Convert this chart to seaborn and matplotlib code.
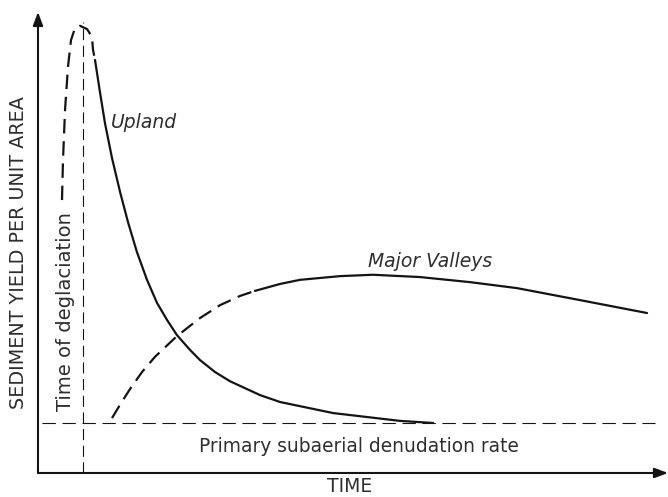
import numpy as np
import matplotlib
matplotlib.use("Agg")
import matplotlib.pyplot as plt
import seaborn as sns

# Upland curve: dashed rise up to the peak, then solid decay to the base rate
upland_rise_t = [3.81, 3.97, 4.29, 4.76, 5.24, 5.87, 6.67, 7.78, 8.57, 8.73, 9.05]
upland_rise_y = [59.2, 67.9, 78.7, 88.1, 93.9, 96.5, 97.0, 96.3, 94.6, 91.8, 89.6]
upland_fall_t = [9.05, 9.84, 10.63, 11.75, 13.02, 14.29, 15.71, 17.30, 18.89, 20.48,
                 22.06, 24.13, 25.71, 28.10, 30.48, 35.24, 38.41, 46.83, 57.46, 62.70]
upland_fall_y = [89.6, 82.6, 75.9, 68.3, 61.0, 54.4, 47.9, 41.9, 36.9, 33.2,
                 29.9, 26.7, 24.5, 21.9, 19.9, 16.9, 15.4, 13.0, 11.3, 10.85]

# Major valleys curve: dashed rise, then solid plateau and slow decline
valley_rise_t = [11.75, 13.02, 14.60, 16.51, 18.57, 22.06, 25.71, 28.89, 32.06, 34.44]
valley_rise_y = [11.9, 14.8, 18.2, 21.9, 25.2, 29.7, 33.6, 36.4, 38.4, 39.5]
valley_main_t = [34.44, 38.41, 41.59, 47.94, 53.17, 60.63, 68.57, 76.03, 86.03, 96.67]
valley_main_y = [39.5, 41.0, 41.9, 42.7, 43.0, 42.5, 41.4, 40.1, 37.5, 34.7]

baseline_rate = 10.85
deglaciation_time = 7.14

sns.set_style("white")
plt.rcParams["font.family"] = ["DejaVu Sans"]

fig = plt.figure(figsize=(6.68, 4.97), dpi=100)
ax = fig.add_axes([0, 0, 1, 1])
ax.set_xlim(-6.03, 100)
ax.set_ylim(-5.21, 102.6)
ax.axis("off")

ink = "#141414"
txt = "#2e2e2e"
curve_dash = (0, (6.5, 3.5))

sns.lineplot(x=upland_rise_t, y=upland_rise_y, ax=ax, sort=False, estimator=None,
             color=ink, lw=1.6, linestyle=curve_dash)
sns.lineplot(x=upland_fall_t, y=upland_fall_y, ax=ax, sort=False, estimator=None,
             color=ink, lw=1.6)
sns.lineplot(x=valley_rise_t, y=valley_rise_y, ax=ax, sort=False, estimator=None,
             color=ink, lw=1.6, linestyle=curve_dash)
sns.lineplot(x=valley_main_t, y=valley_main_y, ax=ax, sort=False, estimator=None,
             color=ink, lw=1.6)

# reference lines
ax.plot([0.6, 97.9], [baseline_rate, baseline_rate], color=ink, lw=0.8,
        linestyle=(0, (12, 6)))
ax.plot([deglaciation_time, deglaciation_time], [0, 97.8], color=ink, lw=0.8,
        linestyle=(0, (10, 5)))

# axes with arrowheads
arrow = dict(arrowstyle="-|>,head_length=0.8,head_width=0.3", color=ink, lw=1.5,
             shrinkA=0, shrinkB=0)
ax.annotate("", xy=(100, 0), xytext=(0, 0), arrowprops=arrow)
ax.annotate("", xy=(0, 100), xytext=(0, 0), arrowprops=arrow)

# labels
ax.text(16.9, 76.1, "Upland", style="italic", fontsize=13.5, ha="center", va="center", color=txt)
ax.text(62.2, 45.8, "Major Valleys", style="italic", fontsize=13.5, ha="center", va="center", color=txt)
ax.text(4.29, 35.1, "Time of deglaciation", rotation=90, fontsize=14, ha="center", va="center", color=txt)
ax.text(50.95, 5.64, "Primary subaerial denudation rate", fontsize=13.4, ha="center", va="center", color=txt)
ax.text(49.52, -3.04, "TIME", fontsize=13.5, ha="center", va="center", color=txt)
ax.text(-3.17, 47.9, "SEDIMENT YIELD PER UNIT AREA", rotation=90, fontsize=13.8,
        ha="center", va="center", color=txt)

fig.savefig("out.png", dpi=100)
